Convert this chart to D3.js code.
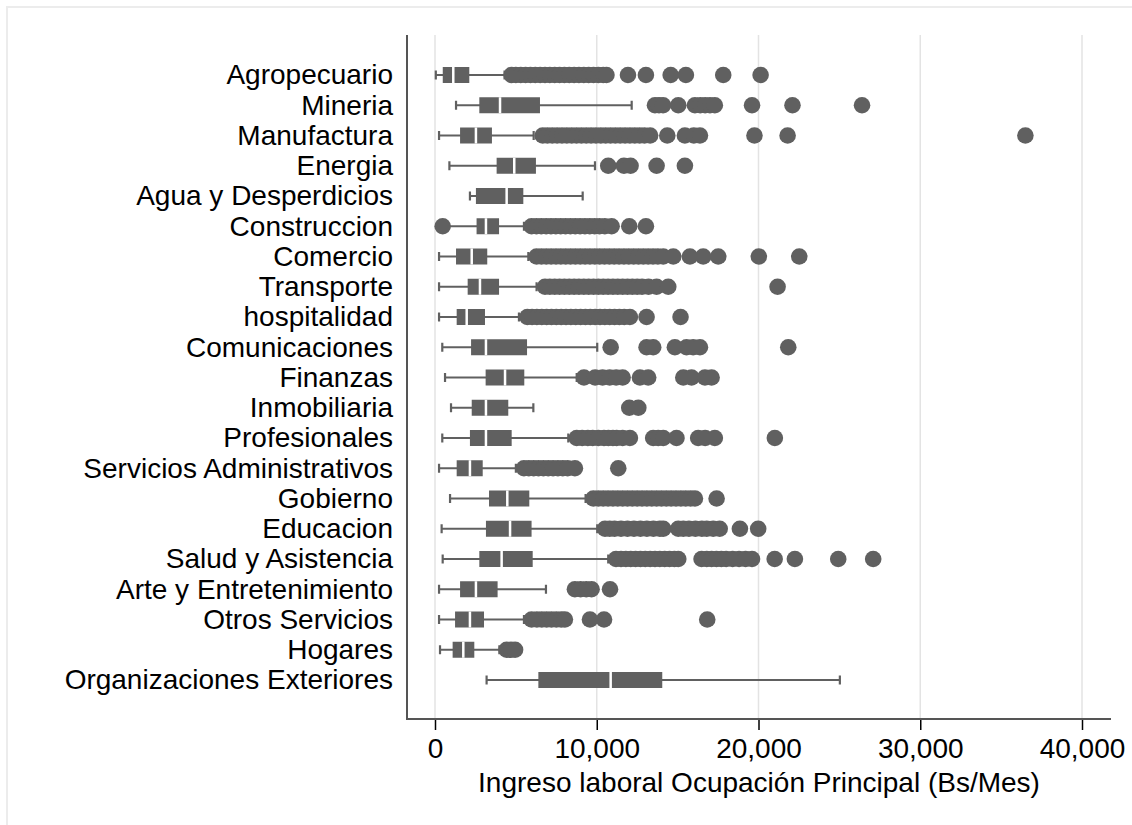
<!DOCTYPE html>
<html>
<head>
<meta charset="utf-8">
<script src="https://cdn.jsdelivr.net/npm/d3@7"></script>
<style>
  body { margin: 0; background: #fff; }
  text { font-family: "Liberation Sans", Arial, sans-serif; fill: #000; }
</style>
</head>
<body>
<div id="chart"></div>
<script>
// Sector labels (rows, top to bottom)
var sectors = ["Agropecuario", "Mineria", "Manufactura", "Energia", "Agua y Desperdicios",
  "Construccion", "Comercio", "Transporte", "hospitalidad", "Comunicaciones", "Finanzas",
  "Inmobiliaria", "Profesionales", "Servicios Administrativos", "Gobierno", "Educacion",
  "Salud y Asistencia", "Arte y Entretenimiento", "Otros Servicios", "Hogares",
  "Organizaciones Exteriores"];

// Box statistics (Bs/Mes)
var lowWhisker = [50, 1300, 250, 890, 2160, 700, 250, 250, 250, 450, 620, 990, 450, 250, 930, 410, 475, 250, 250, 310, 3190];
var q1 = [480, 2740, 1550, 3810, 2530, 2570, 1300, 2020, 1340, 2230, 3130, 2270, 2160, 1340, 3340, 3150, 2740, 1550, 1240, 1090, 6390];
var medians = [1130, 4020, 2530, 4900, 4430, 3150, 2270, 2780, 1960, 3150, 4330, 3150, 3150, 2160, 4470, 4640, 4120, 2530, 2160, 1750, 10860];
var q3 = [2120, 6490, 3520, 6240, 5460, 3960, 3230, 3960, 3090, 5690, 5520, 4530, 4740, 2950, 5830, 5970, 6040, 3870, 3030, 2430, 14050];
var highWhisker = [4300, 12160, 6100, 9890, 9130, 5500, 5770, 6280, 5190, 10030, 8760, 6080, 8240, 5000, 9310, 10030, 10710, 6860, 5500, 3980, 25030];

// Outside values
var outliers = [
  [4740, 5000, 5300, 5600, 5900, 6200, 6500, 6800, 7100, 7400, 7700, 8000, 8300, 8600, 8900, 9200, 9500, 9800, 10100, 10400, 10600, 11930, 13040, 14570, 15510, 17820, 20130],
  [13600, 13850, 14100, 15040, 16070, 16400, 16700, 17000, 17300, 19600, 22100, 26400],
  [6660, 6950, 7250, 7550, 7850, 8150, 8450, 8750, 9050, 9350, 9650, 9950, 10250, 10550, 10850, 11150, 11450, 11750, 12050, 12350, 12650, 12950, 13300, 14360, 15450, 16000, 16380, 19750, 21800, 36500],
  [10710, 11680, 12090, 13700, 15450],
  [],
  [475, 5970, 6270, 6570, 6870, 7170, 7470, 7770, 8070, 8370, 8670, 8970, 9270, 9570, 9870, 10170, 10500, 10920, 12010, 13040],
  [6280, 6580, 6880, 7180, 7480, 7780, 8080, 8380, 8680, 8980, 9280, 9580, 9880, 10180, 10480, 10780, 11080, 11380, 11680, 11980, 12280, 12580, 12880, 13180, 13480, 13780, 14110, 14730, 15760, 16580, 17510, 20020, 22520],
  [6800, 7100, 7400, 7700, 8000, 8300, 8600, 8900, 9200, 9500, 9800, 10100, 10400, 10700, 11000, 11300, 11600, 11900, 12200, 12500, 12800, 13200, 13700, 14420, 21180],
  [5710, 6000, 6300, 6600, 6900, 7200, 7500, 7800, 8100, 8400, 8700, 9000, 9300, 9600, 9900, 10200, 10500, 10800, 11100, 11400, 11700, 12050, 13080, 15180],
  [10860, 13080, 13490, 14830, 15550, 15960, 16380, 21840],
  [9210, 9900, 10360, 10800, 11200, 11600, 12670, 13180, 15350, 15860, 16690, 17100],
  [12010, 12570],
  [8760, 9100, 9450, 9750, 10100, 10450, 10720, 11000, 11230, 11600, 12050, 13490, 13800, 14110, 14930, 16270, 16700, 17300, 21010],
  [5500, 5800, 6100, 6400, 6700, 7000, 7300, 7600, 7900, 8200, 8650, 11330],
  [9790, 10100, 10400, 10700, 11000, 11300, 11600, 11900, 12200, 12500, 12800, 13100, 13400, 13700, 14000, 14300, 14600, 14900, 15200, 15500, 15800, 16070, 17410],
  [10510, 10800, 11100, 11500, 11900, 12300, 12700, 13100, 13500, 13900, 14110, 15040, 15350, 15700, 16100, 16500, 16800, 17200, 17600, 18850, 19980],
  [11190, 11500, 11800, 12100, 12400, 12700, 13000, 13300, 13600, 13900, 14200, 14500, 14800, 15040, 16480, 16800, 17100, 17400, 17700, 18000, 18400, 18800, 19200, 19600, 21000, 22250, 24930, 27090],
  [8650, 9000, 9350, 9680, 10820],
  [5970, 6300, 6600, 6900, 7200, 7500, 7800, 8030, 9580, 10450, 16830],
  [4430, 4700, 4950],
  []
];

var xTicks = [0, 10000, 20000, 30000, 40000];
var xTitle = "Ingreso laboral Ocupación Principal (Bs/Mes)";

var W = 1132, H = 825;
var plot = {left: 407, right: 1111, top: 35, bottom: 719};
var grey = "#606060";
var fontSize = 28;

var svg = d3.select("#chart").append("svg")
  .attr("width", W).attr("height", H);

// faint outer frame
svg.append("rect")
  .attr("x", 7).attr("y", 7).attr("width", W + 20).attr("height", H + 20)
  .attr("fill", "none").attr("stroke", "#ececec").attr("stroke-width", 2);

var x = d3.scaleLinear().domain([0, 40000]).range([435, 1082]);
var y = d3.scalePoint().domain(sectors).range([75, 680]);

// gridlines
svg.append("g").selectAll("line")
  .data(xTicks).enter().append("line")
  .attr("x1", function(d) { return x(d); })
  .attr("x2", function(d) { return x(d); })
  .attr("y1", plot.top).attr("y2", plot.bottom)
  .attr("stroke", "#e3e3e3").attr("stroke-width", 1.5);

// x axis
var xAxis = svg.append("g")
  .attr("transform", "translate(0," + plot.bottom + ")")
  .call(d3.axisBottom(x).tickValues(xTicks).tickFormat(d3.format(",")).tickSize(11).tickPadding(8));
xAxis.select(".domain").remove();
xAxis.selectAll(".tick line").attr("stroke", "#000").attr("stroke-width", 1.5);
xAxis.selectAll(".tick text").attr("font-size", fontSize).attr("fill", "#000")
  .style("font-family", "'Liberation Sans', Arial, sans-serif");

// y axis labels
var yAxis = svg.append("g")
  .attr("transform", "translate(" + plot.left + ",0)")
  .call(d3.axisLeft(y).tickSize(0).tickPadding(14));
yAxis.select(".domain").remove();
yAxis.selectAll(".tick text").attr("font-size", fontSize).attr("fill", "#000")
  .style("font-family", "'Liberation Sans', Arial, sans-serif");

// axis lines
svg.append("line")
  .attr("x1", plot.left).attr("x2", plot.left)
  .attr("y1", plot.top).attr("y2", plot.bottom)
  .attr("stroke", "#555").attr("stroke-width", 2);
svg.append("line")
  .attr("x1", plot.left - 1).attr("x2", plot.right)
  .attr("y1", plot.bottom).attr("y2", plot.bottom)
  .attr("stroke", "#555").attr("stroke-width", 2);

// x title
svg.append("text")
  .attr("x", (plot.left + plot.right) / 2)
  .attr("y", 792)
  .attr("text-anchor", "middle")
  .attr("font-size", fontSize)
  .text(xTitle);

// boxes
var rows = sectors.map(function(s, i) {
  return {name: s, lo: lowWhisker[i], q1: q1[i], med: medians[i], q3: q3[i], hi: highWhisker[i], out: outliers[i]};
});

var boxH = 16, capH = 9;
var g = svg.selectAll(".row").data(rows).enter().append("g").attr("class", "row");

g.append("line")
  .attr("x1", function(d) { return x(d.lo); })
  .attr("x2", function(d) { return x(d.hi); })
  .attr("y1", function(d) { return y(d.name); })
  .attr("y2", function(d) { return y(d.name); })
  .attr("stroke", grey).attr("stroke-width", 2.2);

["lo", "hi"].forEach(function(k) {
  g.append("line")
    .attr("x1", function(d) { return x(d[k]); })
    .attr("x2", function(d) { return x(d[k]); })
    .attr("y1", function(d) { return y(d.name) - capH / 2; })
    .attr("y2", function(d) { return y(d.name) + capH / 2; })
    .attr("stroke", grey).attr("stroke-width", 2.2);
});

g.append("rect")
  .attr("x", function(d) { return x(d.q1); })
  .attr("y", function(d) { return y(d.name) - boxH / 2; })
  .attr("width", function(d) { return x(d.q3) - x(d.q1); })
  .attr("height", boxH)
  .attr("fill", grey);

g.append("line")
  .attr("x1", function(d) { return x(d.med); })
  .attr("x2", function(d) { return x(d.med); })
  .attr("y1", function(d) { return y(d.name) - boxH / 2; })
  .attr("y2", function(d) { return y(d.name) + boxH / 2; })
  .attr("stroke", "#fff").attr("stroke-width", 2.5);

g.selectAll("circle")
  .data(function(d) { return d.out.map(function(v) { return {v: v, name: d.name}; }); })
  .enter().append("circle")
  .attr("cx", function(d) { return x(d.v); })
  .attr("cy", function(d) { return y(d.name); })
  .attr("r", 8.3)
  .attr("fill", grey);
</script>
</body>
</html>
